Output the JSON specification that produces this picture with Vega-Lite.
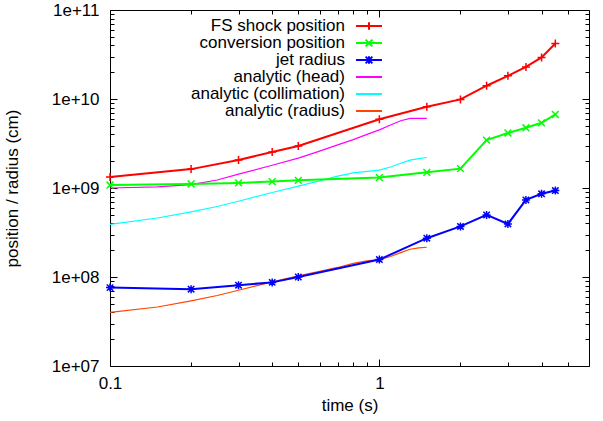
{
  "$schema": "https://vega.github.io/schema/vega-lite/v6.json",
  "width": 479,
  "height": 356,
  "autosize": "none",
  "padding": {"left": 110, "top": 10, "right": 14, "bottom": 55},
  "config": {
    "view": {"stroke": "#000000", "strokeWidth": 1},
    "font": "Liberation Sans",
    "axis": {
      "labelFont": "Liberation Sans", "labelFontSize": 17, "labelColor": "#000000",
      "titleFont": "Liberation Sans", "titleFontSize": 17, "titleFontWeight": "normal", "titleColor": "#000000",
      "domain": false, "grid": false, "tickColor": "#000000", "tickWidth": 1,
      "labelFlush": false, "labelOverlap": false
    }
  },
  "datasets": {
    "curves": [
      {"s": "FS shock position", "t": 0.1, "v": 1.33e9},
      {"s": "FS shock position", "t": 0.2, "v": 1.63e9},
      {"s": "FS shock position", "t": 0.3, "v": 2.06e9},
      {"s": "FS shock position", "t": 0.4, "v": 2.54e9},
      {"s": "FS shock position", "t": 0.5, "v": 2.97e9},
      {"s": "FS shock position", "t": 1.0, "v": 5.93e9},
      {"s": "FS shock position", "t": 1.5, "v": 8.2e9},
      {"s": "FS shock position", "t": 2.0, "v": 9.9e9},
      {"s": "FS shock position", "t": 2.5, "v": 1.41e10},
      {"s": "FS shock position", "t": 3.0, "v": 1.82e10},
      {"s": "FS shock position", "t": 3.5, "v": 2.29e10},
      {"s": "FS shock position", "t": 4.0, "v": 2.93e10},
      {"s": "FS shock position", "t": 4.5, "v": 4.2e10},
      {"s": "conversion position", "t": 0.1, "v": 1.08e9},
      {"s": "conversion position", "t": 0.2, "v": 1.11e9},
      {"s": "conversion position", "t": 0.3, "v": 1.14e9},
      {"s": "conversion position", "t": 0.4, "v": 1.18e9},
      {"s": "conversion position", "t": 0.5, "v": 1.22e9},
      {"s": "conversion position", "t": 1.0, "v": 1.31e9},
      {"s": "conversion position", "t": 1.5, "v": 1.5e9},
      {"s": "conversion position", "t": 2.0, "v": 1.65e9},
      {"s": "conversion position", "t": 2.5, "v": 3.45e9},
      {"s": "conversion position", "t": 3.0, "v": 4.15e9},
      {"s": "conversion position", "t": 3.5, "v": 4.75e9},
      {"s": "conversion position", "t": 4.0, "v": 5.4e9},
      {"s": "conversion position", "t": 4.5, "v": 6.7e9},
      {"s": "jet radius", "t": 0.1, "v": 7.6e7},
      {"s": "jet radius", "t": 0.2, "v": 7.3e7},
      {"s": "jet radius", "t": 0.3, "v": 8.1e7},
      {"s": "jet radius", "t": 0.4, "v": 8.7e7},
      {"s": "jet radius", "t": 0.5, "v": 1.0e8},
      {"s": "jet radius", "t": 1.0, "v": 1.57e8},
      {"s": "jet radius", "t": 1.5, "v": 2.73e8},
      {"s": "jet radius", "t": 2.0, "v": 3.7e8},
      {"s": "jet radius", "t": 2.5, "v": 4.98e8},
      {"s": "jet radius", "t": 3.0, "v": 3.95e8},
      {"s": "jet radius", "t": 3.5, "v": 7.35e8},
      {"s": "jet radius", "t": 4.0, "v": 8.6e8},
      {"s": "jet radius", "t": 4.5, "v": 9.35e8},
      {"s": "analytic (head)", "t": 0.1, "v": 1.0e9},
      {"s": "analytic (head)", "t": 0.15, "v": 1.03e9},
      {"s": "analytic (head)", "t": 0.2, "v": 1.09e9},
      {"s": "analytic (head)", "t": 0.25, "v": 1.23e9},
      {"s": "analytic (head)", "t": 0.3, "v": 1.43e9},
      {"s": "analytic (head)", "t": 0.4, "v": 1.8e9},
      {"s": "analytic (head)", "t": 0.5, "v": 2.17e9},
      {"s": "analytic (head)", "t": 0.6, "v": 2.6e9},
      {"s": "analytic (head)", "t": 0.7, "v": 3.05e9},
      {"s": "analytic (head)", "t": 0.8, "v": 3.5e9},
      {"s": "analytic (head)", "t": 0.9, "v": 4.0e9},
      {"s": "analytic (head)", "t": 1.0, "v": 4.5e9},
      {"s": "analytic (head)", "t": 1.1, "v": 5.1e9},
      {"s": "analytic (head)", "t": 1.2, "v": 5.7e9},
      {"s": "analytic (head)", "t": 1.3, "v": 6.05e9},
      {"s": "analytic (head)", "t": 1.4, "v": 6.05e9},
      {"s": "analytic (head)", "t": 1.5, "v": 6.05e9},
      {"s": "analytic (collimation)", "t": 0.1, "v": 3.9e8},
      {"s": "analytic (collimation)", "t": 0.15, "v": 4.6e8},
      {"s": "analytic (collimation)", "t": 0.2, "v": 5.4e8},
      {"s": "analytic (collimation)", "t": 0.25, "v": 6.2e8},
      {"s": "analytic (collimation)", "t": 0.3, "v": 7.1e8},
      {"s": "analytic (collimation)", "t": 0.4, "v": 8.9e8},
      {"s": "analytic (collimation)", "t": 0.5, "v": 1.05e9},
      {"s": "analytic (collimation)", "t": 0.6, "v": 1.2e9},
      {"s": "analytic (collimation)", "t": 0.7, "v": 1.36e9},
      {"s": "analytic (collimation)", "t": 0.8, "v": 1.48e9},
      {"s": "analytic (collimation)", "t": 0.9, "v": 1.54e9},
      {"s": "analytic (collimation)", "t": 1.0, "v": 1.59e9},
      {"s": "analytic (collimation)", "t": 1.1, "v": 1.72e9},
      {"s": "analytic (collimation)", "t": 1.2, "v": 1.9e9},
      {"s": "analytic (collimation)", "t": 1.3, "v": 2.06e9},
      {"s": "analytic (collimation)", "t": 1.4, "v": 2.14e9},
      {"s": "analytic (collimation)", "t": 1.5, "v": 2.2e9},
      {"s": "analytic (radius)", "t": 0.1, "v": 4.0e7},
      {"s": "analytic (radius)", "t": 0.15, "v": 4.6e7},
      {"s": "analytic (radius)", "t": 0.2, "v": 5.4e7},
      {"s": "analytic (radius)", "t": 0.25, "v": 6.2e7},
      {"s": "analytic (radius)", "t": 0.3, "v": 7.1e7},
      {"s": "analytic (radius)", "t": 0.4, "v": 8.8e7},
      {"s": "analytic (radius)", "t": 0.5, "v": 1.03e8},
      {"s": "analytic (radius)", "t": 0.6, "v": 1.16e8},
      {"s": "analytic (radius)", "t": 0.7, "v": 1.28e8},
      {"s": "analytic (radius)", "t": 0.8, "v": 1.42e8},
      {"s": "analytic (radius)", "t": 0.9, "v": 1.52e8},
      {"s": "analytic (radius)", "t": 1.0, "v": 1.57e8},
      {"s": "analytic (radius)", "t": 1.1, "v": 1.7e8},
      {"s": "analytic (radius)", "t": 1.2, "v": 1.88e8},
      {"s": "analytic (radius)", "t": 1.3, "v": 2.05e8},
      {"s": "analytic (radius)", "t": 1.4, "v": 2.12e8},
      {"s": "analytic (radius)", "t": 1.5, "v": 2.16e8}
    ],
    "keys": [
      {"s": "FS shock position"},
      {"s": "conversion position"},
      {"s": "jet radius"},
      {"s": "analytic (head)"},
      {"s": "analytic (collimation)"},
      {"s": "analytic (radius)"}
    ]
  },
  "data": {"name": "curves"},
  "resolve": {"axis": {"x": "independent", "y": "independent"}},
  "layer": [
    {
      "transform": [{"filter": "datum.s === 'analytic (head)'"}],
      "mark": {"type": "line", "color": "#ff00ff", "strokeWidth": 1.2},
      "encoding": {
        "x": {"field": "t", "type": "quantitative", "scale": {"type": "log", "domain": [0.1, 6], "nice": false},
              "axis": {"orient": "bottom", "values": [0.1, 1], "format": "~g", "ticks": false, "labelPadding": 9, "title": "time (s)", "titlePadding": 6}},
        "y": {"field": "v", "type": "quantitative", "scale": {"type": "log", "domain": [1e7, 1e11], "nice": false},
              "axis": {"orient": "left", "values": [1e7, 1e8, 1e9, 1e10, 1e11], "labelExpr": "'1e+' + (round(log(datum.value)/LN10) < 10 ? '0' : '') + round(log(datum.value)/LN10)", "ticks": false, "labelPadding": 11, "title": "position / radius (cm)", "titlePadding": 30}}
      }
    },
    {
      "transform": [{"filter": "datum.s === 'analytic (collimation)'"}],
      "mark": {"type": "line", "color": "#00ffff", "strokeWidth": 1.2},
      "encoding": {
        "x": {"field": "t", "type": "quantitative", "scale": {"type": "log", "domain": [0.1, 6], "nice": false},
              "axis": {"orient": "bottom", "values": [0.1, 1], "labels": false, "ticks": true, "tickSize": -7, "title": null}},
        "y": {"field": "v", "type": "quantitative", "scale": {"type": "log", "domain": [1e7, 1e11], "nice": false},
              "axis": {"orient": "left", "values": [1e7, 1e8, 1e9, 1e10, 1e11], "labels": false, "ticks": true, "tickSize": -7, "title": null}}
      }
    },
    {
      "transform": [{"filter": "datum.s === 'analytic (radius)'"}],
      "mark": {"type": "line", "color": "#ff4500", "strokeWidth": 1.2},
      "encoding": {
        "x": {"field": "t", "type": "quantitative", "scale": {"type": "log", "domain": [0.1, 6], "nice": false},
              "axis": {"orient": "bottom", "values": [0.2, 0.3, 0.4, 0.5, 0.6, 0.7, 0.8, 0.9, 2, 3, 4, 5], "labels": false, "ticks": true, "tickSize": -4, "title": null}},
        "y": {"field": "v", "type": "quantitative", "scale": {"type": "log", "domain": [1e7, 1e11], "nice": false},
              "axis": {"orient": "left", "values": [2e7, 3e7, 4e7, 5e7, 6e7, 7e7, 8e7, 9e7, 2e8, 3e8, 4e8, 5e8, 6e8, 7e8, 8e8, 9e8, 2e9, 3e9, 4e9, 5e9, 6e9, 7e9, 8e9, 9e9, 2e10, 3e10, 4e10, 5e10, 6e10, 7e10, 8e10, 9e10], "labels": false, "ticks": true, "tickSize": -4, "title": null}}
      }
    },
    {
      "transform": [{"filter": "datum.s === 'FS shock position'"}],
      "mark": {"type": "line", "color": "#ff0000", "strokeWidth": 2},
      "encoding": {
        "x": {"field": "t", "type": "quantitative", "scale": {"type": "log", "domain": [0.1, 6], "nice": false},
              "axis": {"orient": "top", "values": [0.1, 1], "labels": false, "ticks": true, "tickSize": -7, "title": null}},
        "y": {"field": "v", "type": "quantitative", "scale": {"type": "log", "domain": [1e7, 1e11], "nice": false},
              "axis": {"orient": "right", "values": [1e7, 1e8, 1e9, 1e10, 1e11], "labels": false, "ticks": true, "tickSize": -7, "title": null}}
      }
    },
    {
      "transform": [{"filter": "datum.s === 'conversion position'"}],
      "mark": {"type": "line", "color": "#00ff00", "strokeWidth": 2},
      "encoding": {
        "x": {"field": "t", "type": "quantitative", "scale": {"type": "log", "domain": [0.1, 6], "nice": false},
              "axis": {"orient": "top", "values": [0.2, 0.3, 0.4, 0.5, 0.6, 0.7, 0.8, 0.9, 2, 3, 4, 5], "labels": false, "ticks": true, "tickSize": -4, "title": null}},
        "y": {"field": "v", "type": "quantitative", "scale": {"type": "log", "domain": [1e7, 1e11], "nice": false},
              "axis": {"orient": "right", "values": [2e7, 3e7, 4e7, 5e7, 6e7, 7e7, 8e7, 9e7, 2e8, 3e8, 4e8, 5e8, 6e8, 7e8, 8e8, 9e8, 2e9, 3e9, 4e9, 5e9, 6e9, 7e9, 8e9, 9e9, 2e10, 3e10, 4e10, 5e10, 6e10, 7e10, 8e10, 9e10], "labels": false, "ticks": true, "tickSize": -4, "title": null}}
      }
    },
    {
      "transform": [{"filter": "datum.s === 'jet radius'"}],
      "mark": {"type": "line", "color": "#0000ff", "strokeWidth": 2},
      "encoding": {
        "x": {"field": "t", "type": "quantitative", "scale": {"type": "log", "domain": [0.1, 6], "nice": false}, "axis": null},
        "y": {"field": "v", "type": "quantitative", "scale": {"type": "log", "domain": [1e7, 1e11], "nice": false}, "axis": null}
      }
    },
    {
      "transform": [{"filter": "datum.s === 'FS shock position'"}],
      "mark": {"type": "point", "shape": "M-1,0L1,0M0,-1L0,1", "filled": false, "color": "#ff0000", "strokeWidth": 1.5, "size": 64, "opacity": 1},
      "encoding": {
        "x": {"field": "t", "type": "quantitative", "scale": {"type": "log", "domain": [0.1, 6], "nice": false}, "axis": null},
        "y": {"field": "v", "type": "quantitative", "scale": {"type": "log", "domain": [1e7, 1e11], "nice": false}, "axis": null}
      }
    },
    {
      "transform": [{"filter": "datum.s === 'conversion position'"}],
      "mark": {"type": "point", "shape": "M-0.85,-0.85L0.85,0.85M-0.85,0.85L0.85,-0.85", "filled": false, "color": "#00ff00", "strokeWidth": 1.5, "size": 64, "opacity": 1},
      "encoding": {
        "x": {"field": "t", "type": "quantitative", "scale": {"type": "log", "domain": [0.1, 6], "nice": false}, "axis": null},
        "y": {"field": "v", "type": "quantitative", "scale": {"type": "log", "domain": [1e7, 1e11], "nice": false}, "axis": null}
      }
    },
    {
      "transform": [{"filter": "datum.s === 'jet radius'"}],
      "mark": {"type": "point", "shape": "M-1,0L1,0M0,-1L0,1M-0.8,-0.8L0.8,0.8M-0.8,0.8L0.8,-0.8", "filled": false, "color": "#0000ff", "strokeWidth": 1.5, "size": 64, "opacity": 1},
      "encoding": {
        "x": {"field": "t", "type": "quantitative", "scale": {"type": "log", "domain": [0.1, 6], "nice": false}, "axis": null},
        "y": {"field": "v", "type": "quantitative", "scale": {"type": "log", "domain": [1e7, 1e11], "nice": false}, "axis": null}
      }
    },
    {
      "data": {"name": "keys"},
      "mark": {"type": "point", "filled": false, "opacity": 1},
      "encoding": {
        "x": {"field": "t", "type": "quantitative", "scale": {"type": "log", "domain": [0.1, 6], "nice": false}, "axis": null},
        "y": {"field": "v", "type": "quantitative", "scale": {"type": "log", "domain": [1e7, 1e11], "nice": false}, "axis": null},
        "color": {"field": "s", "type": "nominal",
                  "scale": {"domain": ["FS shock position", "conversion position", "jet radius", "analytic (head)", "analytic (collimation)", "analytic (radius)"],
                            "range": ["#ff0000", "#00ff00", "#0000ff", "#ff00ff", "#00ffff", "#ff4500"]},
                  "legend": {"orient": "none", "legendX": 250.5, "legendY": 7.5, "title": null, "padding": 0, "rowPadding": -1.5,
                             "labelAlign": "right", "labelOffset": -32.5, "labelFont": "Liberation Sans", "labelFontSize": 17, "labelColor": "#000000", "labelLimit": 300,
                             "symbolSize": 225, "symbolStrokeWidth": 2,
                             "encode": {"symbols": {"update": {"strokeWidth": {"signal": "indexof(['analytic (head)','analytic (collimation)','analytic (radius)'], datum.value) >= 0 ? 1.2 : 2"}}}}}},
        "shape": {"field": "s", "type": "nominal",
                  "scale": {"domain": ["FS shock position", "conversion position", "jet radius", "analytic (head)", "analytic (collimation)", "analytic (radius)"],
                            "range": ["M-1.73,0L1.73,0M-0.5,0L0.5,0M0,-0.5L0,0.5", "M-1.73,0L1.73,0M-0.45,-0.45L0.45,0.45M-0.45,0.45L0.45,-0.45", "M-1.73,0L1.73,0M0,-0.5L0,0.5M-0.45,-0.45L0.45,0.45M-0.45,0.45L0.45,-0.45", "M-1.73,0L1.73,0", "M-1.73,0L1.73,0", "M-1.73,0L1.73,0"]},
                  "legend": {"orient": "none", "legendX": 250.5, "legendY": 7.5, "title": null, "padding": 0, "rowPadding": -1.5,
                             "labelAlign": "right", "labelOffset": -32.5, "labelFont": "Liberation Sans", "labelFontSize": 17, "labelColor": "#000000", "labelLimit": 300,
                             "symbolSize": 225, "symbolStrokeWidth": 2,
                             "encode": {"symbols": {"update": {"strokeWidth": {"signal": "indexof(['analytic (head)','analytic (collimation)','analytic (radius)'], datum.value) >= 0 ? 1.2 : 2"}}}}}}
      }
    }
  ]
}
